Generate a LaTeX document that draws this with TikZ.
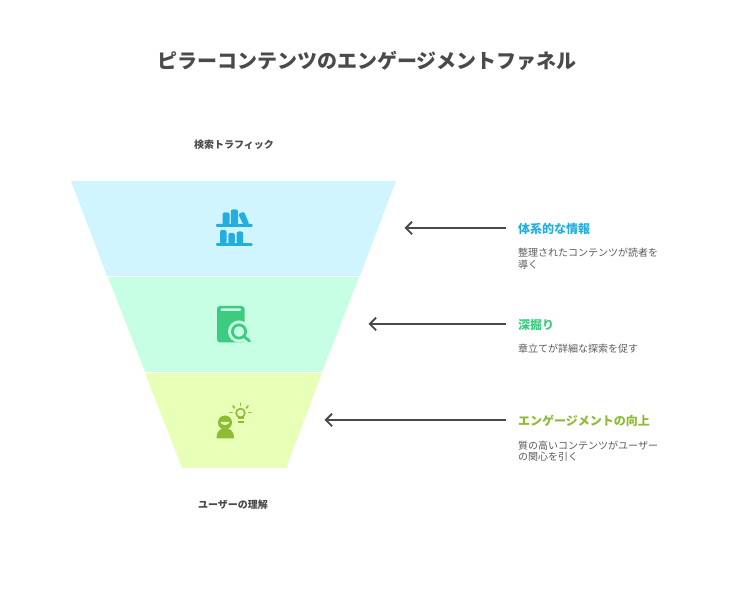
\documentclass[tikz,border=0pt]{standalone}
\usepackage{fontspec}
\setmainfont{Noto Sans CJK JP}
\usetikzlibrary{arrows.meta, positioning}
\definecolor{ink}{HTML}{4A4A4A}
\definecolor{greytext}{HTML}{5A5A5A}
\definecolor{bluefill}{HTML}{D1F5FF}
\definecolor{greenfill}{HTML}{C7FFE4}
\definecolor{limefill}{HTML}{E8FFB8}
\definecolor{blueicon}{HTML}{24AEE0}
\definecolor{greenicon}{HTML}{3DCB80}
\definecolor{limeicon}{HTML}{8DBB35}

\begin{document}
\begin{tikzpicture}[
    x=1pt, y=-1pt,
    head/.style={font=\fontsize{20}{24}\bfseries, color=ink, inner sep=0pt},
    cap label/.style={font=\fontsize{10}{12}\bfseries, color=ink, inner sep=0pt},
    item/.style={font=\fontsize{12}{14}\bfseries, anchor=north west, inner sep=0pt},
    desc/.style={font=\fontsize{10}{11.5}\selectfont, color=greytext, align=left, anchor=north west, inner sep=0pt},
    arr/.style={{Straight Barb[length=2.2mm, width=4.4mm, line width=1.8pt]}-, draw=ink, line width=1.8pt}
]
    \useasboundingbox (0,0) rectangle (732,601);

    % funnel
    \fill[bluefill] (71,181) -- (396,181) -- (360,276) -- (107,276) -- cycle;
    \fill[greenfill] (108,277) -- (359,277) -- (322,372) -- (145,372) -- cycle;
    \fill[limefill] (145,373) -- (322,373) -- (286,468) -- (182,468) -- cycle;

    % texts
    \node[head] (title) at (367,60.5) {ピラーコンテンツのエンゲージメントファネル};
    \node[cap label] (traffic) at (234,145) {検索トラフィック};
    \node[cap label] (understand) at (233,505) {ユーザーの理解};

    \node[item, color=blueicon] (system) at (518,223) {体系的な情報};
    \node[desc, below=13.5pt of system.south west, anchor=north west] (systemtxt) {整理されたコンテンツが読者を\\導く};
    \node[item, color=greenicon] (deep) at (518,319) {深掘り};
    \node[desc, below=13.5pt of deep.south west, anchor=north west] (deeptxt) {章立てが詳細な探索を促す};
    \node[item, color=limeicon] (engage) at (518,415) {エンゲージメントの向上};
    \node[desc, below=13.5pt of engage.south west, anchor=north west] (engagetxt) {質の高いコンテンツがユーザー\\の関心を引く};

    % arrows
    \coordinate (layerA) at (404.5,228);
    \coordinate (layerB) at (368.5,324);
    \coordinate (layerC) at (324.5,420);
    \coordinate (startA) at (506,228);
    \coordinate (startB) at (506,324);
    \coordinate (startC) at (506,420);
    \draw[arr] (layerA) -- (startA);
    \draw[arr] (layerB) -- (startB);
    \draw[arr] (layerC) -- (startC);

    % shelf icon
    \begin{scope}[blueicon]
        \fill[rounded corners=1pt] (216,224) rectangle (252.5,226.8);
        \fill[rounded corners=1pt] (216,243.2) rectangle (252.5,246);
        \fill[rounded corners=2pt] (222.5,225) rectangle (229.5,212.5);
        \fill[rounded corners=2pt] (230.8,225) rectangle (238,209.5);
        \fill[rounded corners=2pt] (243.5,225) -- (238.2,214) -- (244,211.5) -- (249.5,225) -- cycle;
        \fill[rounded corners=2pt] (220,244) rectangle (226.5,230);
        \fill[rounded corners=2pt] (228.3,244) rectangle (234.8,233);
        \fill[rounded corners=2pt] (236.7,244) rectangle (243.2,231.5);
    \end{scope}

    % book icon
    \fill[greenicon, rounded corners=3pt] (217,306) rectangle (244.5,342.5);
    \fill[greenfill, rounded corners=1pt] (220.5,308.3) rectangle (241,310.8);
    \fill[greenfill] (239,331.5) circle (11);
    \draw[greenicon, line width=2.8pt] (239,331.5) circle (6.6);
    \draw[greenicon, line width=2.8pt, line cap=round] (244.2,336.7) -- (249.5,341);

    % person icon
    \fill[limeicon] (225,422.5) circle (7);
    \fill[limeicon, rounded corners=2pt] (216,438.5) -- (218,431) -- (222,428.5) -- (228,428.5) -- (232.5,431) -- (234.5,438.5) -- cycle;
    \fill[limefill] (220.5,422) -- (229.5,422) arc[start angle=0, end angle=-180, radius=4.5, y radius=-3] -- cycle;
    \draw[limeicon, line width=1.6pt] (240.5,413) circle (4.4);
    \draw[limeicon, line width=1.8pt] (237.5,418.3) -- (243.5,418.3);
    \draw[limeicon, line width=1.5pt] (237.5,421.8) -- (243.5,421.8);
    \draw[limeicon, line width=1.7pt, line cap=round] (240.5,403.3) -- (240.5,405.3);
    \draw[limeicon, line width=1.7pt, line cap=round] (233,406) -- (234.5,408);
    \draw[limeicon, line width=1.7pt, line cap=round] (248,406) -- (246.5,408);
    \draw[limeicon, line width=1.7pt, line cap=round] (230,412.5) -- (232,412.5);
    \draw[limeicon, line width=1.7pt, line cap=round] (249,412.5) -- (251,412.5);
\end{tikzpicture}
\end{document}
